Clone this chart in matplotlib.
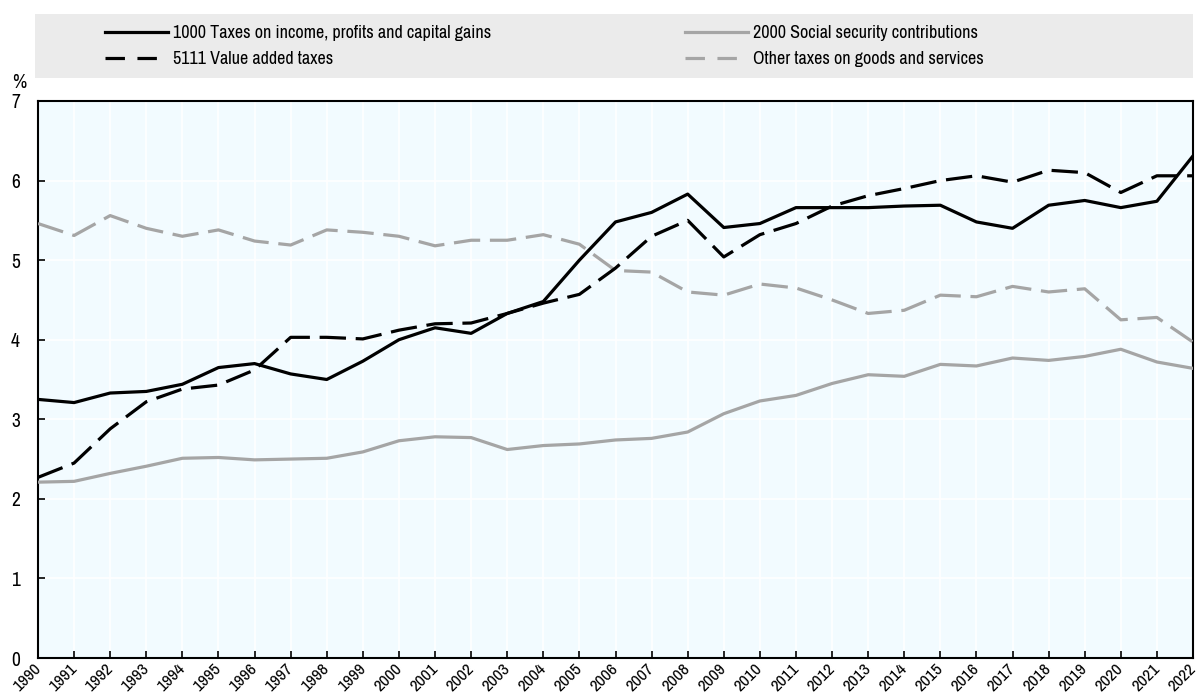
import matplotlib
matplotlib.use("Agg")
import matplotlib.pyplot as plt
from matplotlib.lines import Line2D
from matplotlib.transforms import ScaledTranslation

plt.rcParams['font.family'] = ['Archivo Narrow', 'Liberation Sans', 'DejaVu Sans']
plt.rcParams['lines.scale_dashes'] = False

years = list(range(1990, 2023))
income_tax = [3.25, 3.21, 3.33, 3.35, 3.44, 3.65, 3.70, 3.57, 3.50, 3.73, 4.00, 4.15, 4.08,
              4.33, 4.48, 5.00, 5.48, 5.60, 5.83, 5.41, 5.46, 5.66, 5.66, 5.66, 5.68, 5.69,
              5.48, 5.40, 5.69, 5.75, 5.66, 5.74, 6.31]
social_security = [2.21, 2.22, 2.32, 2.41, 2.51, 2.52, 2.49, 2.50, 2.51, 2.59, 2.73, 2.78, 2.77,
                   2.62, 2.67, 2.69, 2.74, 2.76, 2.84, 3.07, 3.23, 3.30, 3.45, 3.56, 3.54, 3.69,
                   3.67, 3.77, 3.74, 3.79, 3.88, 3.72, 3.64]
vat = [2.27, 2.45, 2.88, 3.22, 3.38, 3.43, 3.62, 4.03, 4.03, 4.01, 4.12, 4.20, 4.21,
       4.33, 4.46, 4.57, 4.90, 5.30, 5.50, 5.04, 5.32, 5.46, 5.68, 5.81, 5.90, 6.00,
       6.06, 5.98, 6.13, 6.10, 5.85, 6.06, 6.06]
other_goods = [5.46, 5.31, 5.56, 5.40, 5.30, 5.38, 5.24, 5.19, 5.38, 5.35, 5.30, 5.18, 5.25,
               5.25, 5.32, 5.20, 4.87, 4.85, 4.60, 4.56, 4.70, 4.65, 4.50, 4.33, 4.37, 4.56,
               4.54, 4.67, 4.60, 4.64, 4.25, 4.28, 3.97]

labels = ["1000 Taxes on income, profits and capital gains",
          "2000 Social security contributions",
          "5111 Value added taxes",
          "Other taxes on goods and services"]
y_ticks = [0, 1, 2, 3, 4, 5, 6, 7]

BLACK = '#000000'
GRAY = '#a5a5a5'
LW = 2.3
DASH = (0, (19, 7))

W, H = 1198, 699
fig = plt.figure(figsize=(W / 100, H / 100), dpi=100)

ax = fig.add_axes([38 / W, 1 - 658 / H, (1193 - 38) / W, (658 - 101) / H])
ax.set_facecolor('#f2fbff')

ax.plot(years, income_tax, color=BLACK, lw=LW, zorder=4)
ax.plot(years, social_security, color=GRAY, lw=LW, zorder=3)
ax.plot(years, vat, color=BLACK, lw=LW, linestyle=DASH, zorder=4)
ax.plot(years, other_goods, color=GRAY, lw=LW, linestyle=DASH, zorder=3)

ax.set_xlim(1990, 2022)
ax.set_ylim(0, 7)
ax.set_yticks(y_ticks)
ax.set_xticks(years)
ax.set_xticklabels([str(y) for y in years], rotation=45, ha='right', va='top',
                   rotation_mode='anchor', fontsize=12.5)
ax.tick_params(axis='both', direction='in', length=5, width=1.2, colors='black')
ax.tick_params(axis='y', labelsize=14, pad=13)
ax.tick_params(axis='x', pad=2)
offset = ScaledTranslation(-5 / 100, 0, fig.dpi_scale_trans)
for lbl in ax.get_xticklabels():
    lbl.set_transform(lbl.get_transform() + offset)
ax.grid(True, color='white', lw=1.2, zorder=0)
for s in ax.spines.values():
    s.set_linewidth(1.5)
    s.set_color('black')

fig.text(12 / W, 1 - 82 / H, '%', fontsize=14, ha='left', va='center')

# legend band
lax = fig.add_axes([35 / W, 1 - 78 / H, (1193 - 35) / W, (78 - 14) / H])
lax.set_facecolor('#ebebeb')
lax.set_xticks([])
lax.set_yticks([])
for s in lax.spines.values():
    s.set_visible(False)

h_income = Line2D([], [], color=BLACK, lw=LW)
h_ss = Line2D([], [], color=GRAY, lw=LW)
h_vat = Line2D([], [], color=BLACK, lw=LW, linestyle=(0, (14, 9)))
h_other = Line2D([], [], color=GRAY, lw=LW, linestyle=(0, (14, 9)))

common = dict(loc='center left', frameon=False, fontsize=13, handlelength=3.5,
              handletextpad=0.25, labelspacing=0.55, borderpad=0, borderaxespad=0)
leg1 = lax.legend([h_income, h_vat], [labels[0], labels[2]],
                  bbox_to_anchor=((105 - 35) / (1193 - 35), 0.5), **common)
lax.add_artist(leg1)
leg2 = lax.legend([h_ss, h_other], [labels[1], labels[3]],
                  bbox_to_anchor=((685 - 35) / (1193 - 35), 0.5), **common)

fig.savefig('out.png', dpi=100)
